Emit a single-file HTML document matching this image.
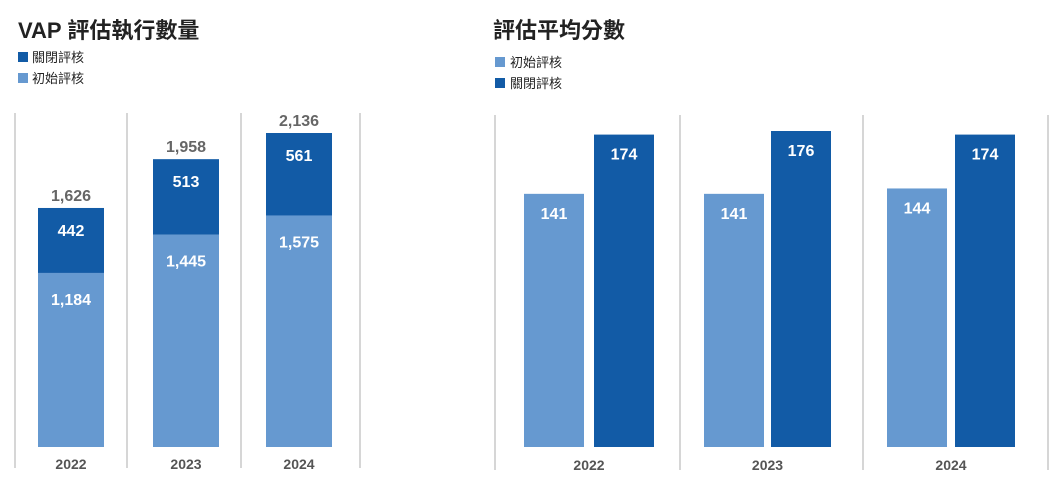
<!DOCTYPE html>
<html><head><meta charset="utf-8">
<style>
body{margin:0;background:#fff;width:1056px;height:480px;overflow:hidden;font-family:"Liberation Sans","Noto Sans CJK TC",sans-serif;}
svg{position:absolute;left:0;top:0}
</style></head>
<body>
<svg id="c" width="1056" height="480">
<text x="18" y="38" font-size="22" font-weight="bold" fill="#222" font-family="Liberation Sans, Noto Sans CJK TC, sans-serif">VAP 評估執行數量</text>
<rect x="18" y="52" width="10" height="10" fill="#125ba6"/>
<text x="32" y="62" font-size="13" fill="#222" font-family="Noto Sans CJK TC, sans-serif">關閉評核</text>
<rect x="18" y="73" width="10" height="10" fill="#6699d0"/>
<text x="32" y="83" font-size="13" fill="#222" font-family="Noto Sans CJK TC, sans-serif">初始評核</text>
<text x="493" y="38" font-size="22" font-weight="bold" fill="#222" font-family="Noto Sans CJK TC, sans-serif">評估平均分數</text>
<rect x="495" y="57" width="10" height="10" fill="#6699d0"/>
<text x="510" y="67" font-size="13" fill="#222" font-family="Noto Sans CJK TC, sans-serif">初始評核</text>
<rect x="495" y="78" width="10" height="10" fill="#125ba6"/>
<text x="510" y="88" font-size="13" fill="#222" font-family="Noto Sans CJK TC, sans-serif">關閉評核</text>
</svg>
<script>
const years=["2022","2023","2024"];
const initialCounts=[1184,1445,1575];
const closedCounts=[442,513,561];
const initialScores=[141,141,144];
const closedScores=[174,176,174];
const totalLabels=["1,626","1,958","2,136"];

const NS="http://www.w3.org/2000/svg";
const svg=document.getElementById('c');
const LIGHT="#6699d0",DARK="#125ba6";
const FONT='"Liberation Sans Narrow","Liberation Sans",sans-serif';
function el(t,a){const e=document.createElementNS(NS,t);for(const k in a)e.setAttribute(k,a[k]);svg.appendChild(e);return e;}
function fmt(v){return v.toLocaleString('en-US');}
const base=447;
// left chart
const yL=v=>base-v*(314/2136);
[15,127,241,360].forEach((x,i)=>{const l=el('line',{x1:x,x2:x,y1:113,y2:468,stroke:'#c8c8c8','stroke-width':1.5});

});
const cxL=[71,186,299];
years.forEach((yr,i)=>{
  const x=cxL[i]-33,w=66;
  const t1=yL(initialCounts[i]),t2=yL(initialCounts[i]+closedCounts[i]);
  const b1=el('rect',{x:x,y:t1,width:w,height:base-t1,fill:LIGHT});
  
  
  const b2=el('rect',{x:x,y:t2,width:w,height:t1-t2,fill:DARK});
  
  
  const a=el('text',{x:cxL[i],y:t1+32,'text-anchor':'middle','font-size':16,'font-weight':'bold',fill:'#fff','font-family':FONT});a.textContent=fmt(initialCounts[i]);
  
  
  const b=el('text',{x:cxL[i],y:t2+28,'text-anchor':'middle','font-size':16,'font-weight':'bold',fill:'#fff','font-family':FONT});b.textContent=fmt(closedCounts[i]);
  
  
  const c=el('text',{x:cxL[i],y:t2-7,'text-anchor':'middle','font-size':16,'font-weight':'bold',fill:'#666','font-family':FONT});c.textContent=totalLabels[i];
  
  
  const d=el('text',{x:cxL[i],y:469,'text-anchor':'middle','font-size':14,'font-weight':'bold',fill:'#555','font-family':FONT});d.textContent=yr;
  
  
});
// right chart
const yR=v=>base-v*(316/176);
[495,680,863,1048].forEach((x,i)=>{const l=el('line',{x1:x,x2:x,y1:115,y2:470,stroke:'#c8c8c8','stroke-width':1.5});

});
const lxR=[524,704,887],dxR=[594,771,955];
years.forEach((yr,i)=>{
  const t1=yR(initialScores[i]),t2=yR(closedScores[i]);
  const b1=el('rect',{x:lxR[i],y:t1,width:60,height:base-t1,fill:LIGHT});
  
  
  const b2=el('rect',{x:dxR[i],y:t2,width:60,height:base-t2,fill:DARK});
  
  
  const a=el('text',{x:lxR[i]+30,y:t1+25,'text-anchor':'middle','font-size':16,'font-weight':'bold',fill:'#fff','font-family':FONT});a.textContent=initialScores[i];
  
  
  const b=el('text',{x:dxR[i]+30,y:t2+25,'text-anchor':'middle','font-size':16,'font-weight':'bold',fill:'#fff','font-family':FONT});b.textContent=closedScores[i];
  
  
  const d=el('text',{x:(lxR[i]+dxR[i]+60)/2,y:470,'text-anchor':'middle','font-size':14,'font-weight':'bold',fill:'#555','font-family':FONT});d.textContent=yr;
  
  
});
</script>
</body></html>
